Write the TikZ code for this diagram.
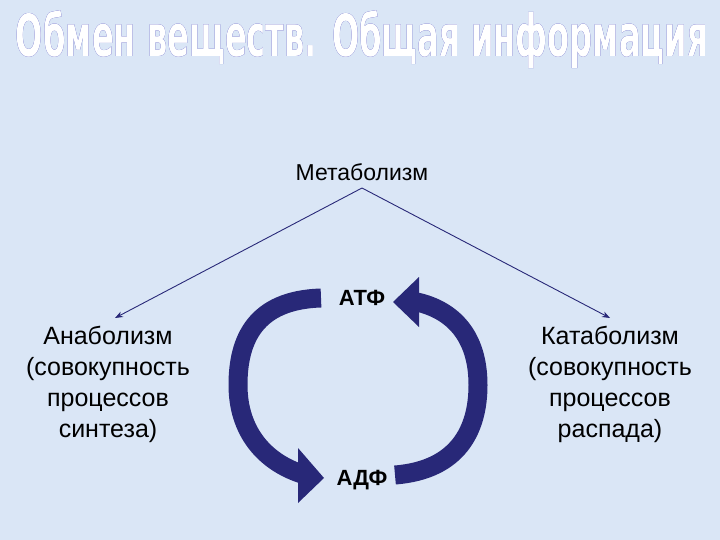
\documentclass[tikz,border=0pt]{standalone}
\usepackage{fontspec}
\setmainfont{Liberation Sans}
\newfontfamily\titlefont{DejaVu Sans Condensed Bold}
\usepackage[outline]{contour}
\contourlength{2.2pt}
\usetikzlibrary{arrows.meta}
\definecolor{bg}{RGB}{218,230,246}
\definecolor{navy}{RGB}{40,40,120}
\definecolor{tblue}{RGB}{25,25,170}
\begin{document}
\begin{tikzpicture}[x=1pt,y=-1pt,
  lbl/.style={font=\fontsize{25}{31}\selectfont, align=center, text=black},
  small/.style={font=\fontsize{23}{26}\selectfont},
  con/.style={draw=navy, line width=0.9pt, -{Stealth[length=8pt,width=6pt]}},
  band/.style={draw=navy, line width=19pt, line cap=butt},
  head/.style={fill=navy}]
\useasboundingbox (0,0) rectangle (720,540);
\fill[bg] (0,0) rectangle (720,540);
\node (title) at (362,40) {\resizebox{692pt}{46pt}{\titlefont\color{white}\contour{tblue}{Обмен веществ. Общая информация}}};
\node[small] (met) at (362,172) {Метаболизм};
\node[lbl] (ana) at (108,384) {Анаболизм\\(совокупность\\процессов\\синтеза)};
\node[lbl] (kat) at (610,384) {Катаболизм\\(совокупность\\процессов\\распада)};
\node[small,font=\fontsize{22}{26}\selectfont\bfseries] (atf) at (362,298) {АТФ};
\node[small,font=\fontsize{22}{26}\selectfont\bfseries] (adf) at (362,480) {АДФ};
\coordinate (top) at (362,188);
\coordinate (la) at (115,318);
\coordinate (ra) at (610,318);
\draw[con] (top) -- (la);
\draw[con] (top) -- (ra);
% left cycle arrow
\draw[band] (321,298) .. controls (255,300) and (238,340) .. (238,385) .. controls (238,432) and (265,462) .. (302,474);
\fill[head] (298,448) -- (324,478) -- (298,503) -- cycle;
% right cycle arrow
\draw[band] (395,475) .. controls (458,470) and (478,430) .. (478,385) .. controls (478,335) and (452,310) .. (417,302);
\fill[head] (419,277) -- (393,302) -- (419,327) -- cycle;
\end{tikzpicture}
\end{document}
